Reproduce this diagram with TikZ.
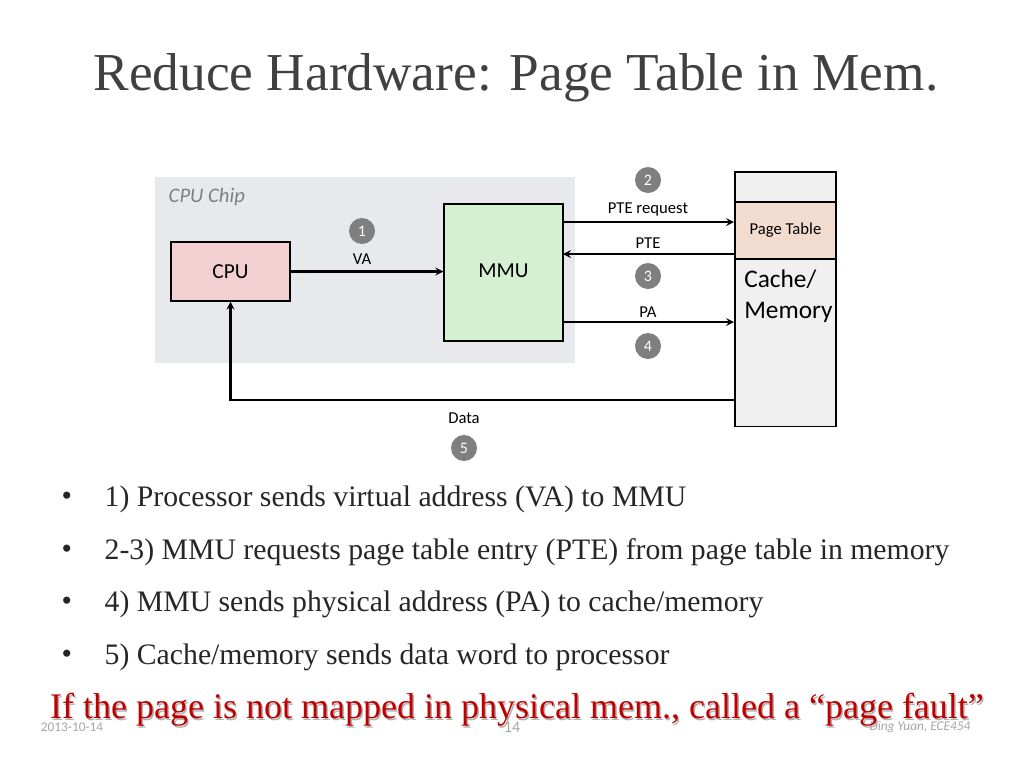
\documentclass[tikz,border=0pt]{standalone}
\usepackage{fontspec}
\setmainfont{Liberation Serif}
\newfontfamily\slidesans{Carlito}
\usetikzlibrary{positioning}
\definecolor{chipgray}{HTML}{E7E9EC}
\definecolor{cpupink}{HTML}{F2CFD0}
\definecolor{mmugreen}{HTML}{D5F0D0}
\definecolor{memgray}{HTML}{F0F0F0}
\definecolor{ptpeach}{HTML}{F2DCD0}
\definecolor{stepgray}{HTML}{7F7F7F}
\definecolor{faultred}{HTML}{C00000}
\definecolor{titlegray}{HTML}{404040}
\tikzset{
  blk/.style={draw, line width=1.2pt, font=\slidesans\fontsize{16}{18}\selectfont},
  stepc/.style={circle, fill=stepgray, text=white, inner sep=0pt, minimum size=19.5pt, font=\slidesans\fontsize{12}{12}\selectfont},
  lbl/.style={font=\slidesans\fontsize{12.5}{14}\selectfont},
  arr/.style={line width=1.6pt, ->, >=stealth},
  bul/.style={anchor=west, font=\fontsize{22.3}{26}\selectfont, text=black!85}
}
\begin{document}
\begin{tikzpicture}[x=0.75pt, y=-0.75pt]
            \useasboundingbox (0,0) rectangle (1024,768);
            \node[font=\fontsize{40}{46}\selectfont, text=titlegray] (title) at (516,78) {Reduce Hardware: Page Table in Mem.};

            % Chip area
            \fill[chipgray] (155,177) rectangle (575,363);
            \node[anchor=west, text=gray, font=\slidesans\itshape\fontsize{15.5}{18}\selectfont] (chip) at (164,197) {CPU Chip};

            \node[blk, fill=cpupink, minimum width=89pt, minimum height=44pt] (cpu) at (230.5,271.5) {CPU};
            \node[blk, fill=mmugreen, minimum width=89pt, minimum height=103pt, anchor=north] (mmu) at (503.5,203) {};
            \node[font=\slidesans\fontsize{16}{18}\selectfont] (mmul) at (503.5,271) {MMU};
            \node[blk, fill=memgray, minimum width=76pt, minimum height=191pt, anchor=north west] (mem) at (734,171) {};
            \node[draw, line width=1.2pt, fill=ptpeach, minimum width=76pt, minimum height=43pt, anchor=north west, lbl] (pt) at (734,201) {Page Table};
            \node[anchor=north west, align=left, inner sep=0pt, font=\slidesans\fontsize{19}{23}\selectfont] (memlbl) at (744,270) {Cache/\\Memory};
            \coordinate (dout) at (734,400);

            % Draw edges
            \draw[arr] (cpu.east) -- (mmu.west |- cpu.east);
            \draw[arr] (563,222) -- (734,222);
            \draw[arr] (734,254) -- (563,254);
            \draw[arr] (563,322) -- (734,322);
            \draw[arr] (dout) -| (cpu.south);

            \node[lbl] (va) at (362,259) {VA};
            \node[lbl] (req) at (648,209) {PTE request};
            \node[lbl] (pte) at (648,243) {PTE};
            \node[lbl] (pa) at (648,312) {PA};
            \node[lbl] (data) at (464,418) {Data};
            \node[stepc] (s1) at (362,231) {1};
            \node[stepc] (s2) at (648,180) {2};
            \node[stepc] (s3) at (648,276) {3};
            \node[stepc] (s4) at (648,346) {4};
            \node[stepc] (s5) at (464,448) {5};

            % Bullets
            \foreach \y/\t in {499/{1) Processor sends virtual address (VA) to MMU},
                               552/{2-3) MMU requests page table entry (PTE) from page table in memory},
                               604/{4) MMU sends physical address (PA) to cache/memory},
                               657/{5) Cache/memory sends data word to processor}} {
              \node[bul] at (57,\y) {\textbullet};
              \node[bul] at (100,\y) {\t};
            }

            \node[text=gray!70, font=\slidesans\fontsize{10}{12}\selectfont] (date) at (72,727) {2013-10-14};
            \node[text=gray!70, font=\slidesans\fontsize{12}{12}\selectfont] (pg) at (512,727) {14};
            \node[text=gray!70, font=\slidesans\itshape\fontsize{10}{12}\selectfont] (auth) at (920,727) {Ding Yuan, ECE454};
            \node[text=gray!60, font=\fontsize{27}{32}\selectfont] at (518.5,711.5) {If the page is not mapped in physical mem., called a ``page fault''};
            \node[text=faultred, font=\fontsize{27}{32}\selectfont] (fault) at (517,710) {If the page is not mapped in physical mem., called a ``page fault''};
        \end{tikzpicture}
\end{document}
